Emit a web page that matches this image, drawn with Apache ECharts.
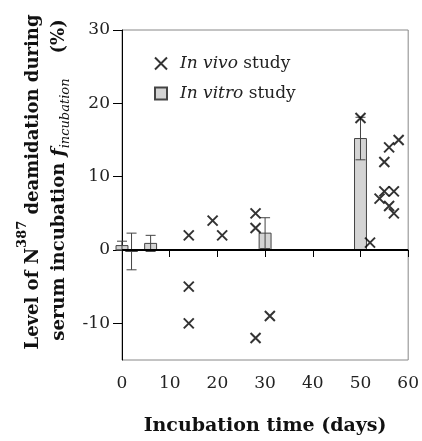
<!DOCTYPE html>
<html><head><meta charset="utf-8">
<script src="https://cdn.jsdelivr.net/npm/echarts@6/dist/echarts.min.js"></script>
<style>html,body{margin:0;padding:0;background:#fff}#c{width:422px;height:441px}</style>
</head><body><div id="c"></div>
<script>
// In vivo study points
const vivoDays = [14, 14, 14, 19, 21, 28, 28, 28, 31, 50, 52, 54, 55, 57, 56, 57, 55, 56, 58];
const vivoLevel = [2, -5, -10, 4, 2, 5, 3, -12, -9, 18, 1, 7, 8, 8, 6, 5, 12, 14, 15];
// In vitro study bars
const vitroDays = [0, 2, 6, 30, 50];
const vitroMean = [0.6, -0.2, 0.9, 2.3, 15.2];
const vitroErr = [0.6, 2.5, 1.1, 2.1, 2.9];
const xTicks = [0, 10, 20, 30, 40, 50, 60];
const yTicks = [-10, 0, 10, 20, 30];

const FONT = 'DejaVu Serif';
const chart = echarts.init(document.getElementById('c'));
const crossPath = 'path://M0,0L10,10M0,10L10,0';

chart.setOption({
  animation: false,
  grid: {left: 122, top: 30, right: 11, bottom: 75, show: true, borderColor: '#888', borderWidth: 1},
  legend: {
    orient: 'vertical', left: 149, top: 50, itemWidth: 12, itemHeight: 12, itemGap: 13,
    data: [{name: 'In vivo study', icon: crossPath}, {name: 'In vitro study', icon: 'rect'}],
    formatter: function (n) { return n === 'In vivo study' ? '{i|In vivo} {r|study}' : '{i|In vitro} {r|study}'; },
    textStyle: {fontFamily: FONT, fontSize: 17, color: '#222', padding: [0, 0, 0, 8],
      rich: {i: {fontStyle: 'italic', fontFamily: FONT, fontSize: 17, color: '#222'},
             r: {fontFamily: FONT, fontSize: 17, color: '#222'}}}
  },
  xAxis: {
    type: 'value', min: 0, max: 60, interval: 10,
    name: 'Incubation time (days)', nameLocation: 'middle', nameGap: 57,
    nameTextStyle: {fontFamily: FONT, fontSize: 19, fontWeight: 'bold', color: '#111'},
    axisLine: {show: true, lineStyle: {color: '#000', width: 1}},
    axisTick: {show: true, length: 7, lineStyle: {color: '#000'}},
    axisLabel: {fontFamily: FONT, fontSize: 17, color: '#222', margin: 15,
      formatter: function (v) { return xTicks.indexOf(v) >= 0 ? String(v) : ''; }},
    splitLine: {show: false}
  },
  yAxis: {
    type: 'value', min: -15, max: 30, interval: 5,
    axisLine: {show: true, lineStyle: {color: '#000', width: 1}},
    axisTick: {show: true, length: 9, lineStyle: {color: '#000'}, customValues: yTicks},
    axisLabel: {fontFamily: FONT, fontSize: 17, color: '#222', margin: 12, customValues: yTicks},
    splitLine: {show: false}
  },
  graphic: [
    {type: 'text', x: 29, y: 182, rotation: Math.PI / 2,
     style: {text: '{b|Level of N}{sup|387}{b| deamidation during}', align: 'center', verticalAlign: 'middle',
       rich: {b: {fontFamily: FONT, fontSize: 18, fontWeight: 'bold', fill: '#111', lineHeight: 26, verticalAlign: 'bottom'},
              sup: {fontFamily: FONT, fontSize: 13, fontWeight: 'bold', fill: '#111', lineHeight: 26, verticalAlign: 'top'}}}},
    {type: 'text', x: 59, y: 180, rotation: Math.PI / 2,
     style: {text: '{b|serum incubation }{f|f}{sub|incubation}{b|    (%)}', align: 'center', verticalAlign: 'middle',
       rich: {b: {fontFamily: FONT, fontSize: 18, fontWeight: 'bold', fill: '#111', lineHeight: 26},
              f: {fontFamily: FONT, fontSize: 19, fontWeight: 'bold', fontStyle: 'italic', fill: '#111', lineHeight: 26},
              sub: {fontFamily: FONT, fontSize: 13, fontStyle: 'italic', fill: '#111', lineHeight: 26, verticalAlign: 'bottom'}}}}
  ],
  series: [
    {
      name: 'In vitro study', type: 'custom', clip: false, z: 2,
      itemStyle: {color: '#d4d4d4', borderColor: '#444', borderWidth: 1},
      data: vitroDays.map(function (d, i) { return [d, vitroMean[i], vitroErr[i]]; }),
      renderItem: function (params, api) {
        const x = api.value(0), m = api.value(1), e = api.value(2);
        const a = api.coord([x - 1.25, m]);
        const b = api.coord([x + 1.25, 0]);
        const t = api.coord([x, m + e]);
        const bt = api.coord([x, m - e]);
        const cw = 5;
        const ls = {stroke: '#444', lineWidth: 1};
        return {type: 'group', children: [
          {type: 'rect', shape: {x: a[0], y: Math.min(a[1], b[1]), width: b[0] - a[0], height: Math.max(1, Math.abs(b[1] - a[1]))},
           style: {fill: '#d4d4d4', stroke: '#444', lineWidth: 1}},
          {type: 'line', shape: {x1: t[0], y1: t[1], x2: bt[0], y2: bt[1]}, style: ls},
          {type: 'line', shape: {x1: t[0] - cw, y1: t[1], x2: t[0] + cw, y2: t[1]}, style: ls},
          {type: 'line', shape: {x1: bt[0] - cw, y1: bt[1], x2: bt[0] + cw, y2: bt[1]}, style: ls}
        ]};
      },
      markLine: {silent: true, symbol: 'none', label: {show: false},
        lineStyle: {color: '#000', width: 2, type: 'solid'}, data: [{yAxis: 0}]}
    },
    {
      name: 'In vivo study', type: 'scatter', symbol: crossPath, symbolSize: 10, z: 3,
      itemStyle: {color: 'rgba(0,0,0,0)', borderColor: '#000', borderWidth: 2},
      data: vivoDays.map(function (d, i) { return [d, vivoLevel[i]]; })
    }
  ]
});
</script></body></html>
